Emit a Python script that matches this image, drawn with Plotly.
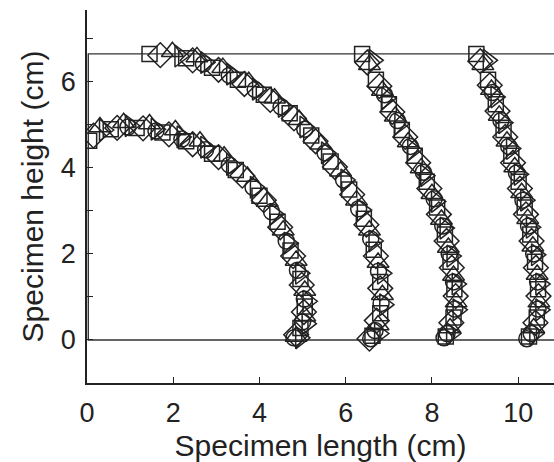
import plotly.graph_objects as go

# ---- data (cm) ----
SQUARE_X = [0.05, 0.55, 1.15, 1.75, 2.3, 2.9, 3.45, 4.0, 4.42, 4.72, 4.95, 5.05, 4.95,
            1.45, 2.3, 2.9, 3.5, 4.1, 4.7, 5.2, 5.65, 6.08, 6.42, 6.65, 6.80, 6.80, 6.62,
            6.38, 6.70, 7.0, 7.30, 7.60, 7.88, 8.12, 8.30, 8.43, 8.52, 8.50, 8.32,
            9.03, 9.30, 9.48, 9.66, 9.84, 10.01, 10.15, 10.28, 10.39, 10.46, 10.43, 10.25]
SQUARE_Y = [4.63, 4.90, 4.93, 4.82, 4.62, 4.33, 3.95, 3.35, 2.75, 2.08, 1.42, 0.78, 0.28,
            6.65, 6.55, 6.33, 6.05, 5.70, 5.27, 4.75, 4.15, 3.50, 2.82, 2.10, 1.35, 0.62, 0.10,
            6.65, 6.05, 5.48, 4.88, 4.28, 3.68, 3.08, 2.45, 1.82, 1.18, 0.52, 0.08,
            6.65, 6.05, 5.48, 4.88, 4.28, 3.68, 3.08, 2.45, 1.82, 1.18, 0.52, 0.08]

TRI_UP_X = [0.30, 0.85, 1.45, 2.05, 2.62, 3.18, 3.72, 4.18, 4.55, 4.85, 5.05, 5.05, 4.85,
            1.98, 2.55, 3.15, 3.75, 4.35, 4.92, 5.42, 5.88, 6.25, 6.55, 6.75, 6.85, 6.75,
            6.55, 6.85, 7.15, 7.45, 7.75, 8.00, 8.22, 8.38, 8.50, 8.56, 8.42,
            9.18, 9.38, 9.56, 9.74, 9.92, 10.08, 10.22, 10.34, 10.44, 10.48, 10.36]
TRI_UP_Y = [4.95, 5.05, 5.02, 4.88, 4.62, 4.27, 3.80, 3.22, 2.55, 1.85, 1.15, 0.55, 0.08,
            6.70, 6.58, 6.33, 6.00, 5.62, 5.12, 4.55, 3.92, 3.25, 2.55, 1.80, 1.05, 0.35,
            6.40, 5.80, 5.20, 4.60, 4.00, 3.40, 2.80, 2.15, 1.50, 0.88, 0.28,
            6.40, 5.82, 5.22, 4.62, 4.02, 3.42, 2.82, 2.18, 1.52, 0.88, 0.28]

DIAMOND_X = [0.15, 0.70, 1.30, 1.90, 2.45, 3.05, 3.60, 4.10, 4.48, 4.78, 4.98, 5.03, 4.85,
             1.70, 2.45, 3.05, 3.65, 4.25, 4.80, 5.30, 5.75, 6.15, 6.48, 6.70, 6.80, 6.72, 6.55,
             6.50, 6.78, 7.08, 7.38, 7.68, 7.94, 8.16, 8.34, 8.46, 8.55, 8.45,
             9.12, 9.34, 9.52, 9.70, 9.88, 10.04, 10.18, 10.31, 10.41, 10.47, 10.40]
DIAMOND_Y = [4.75, 4.93, 4.92, 4.78, 4.55, 4.25, 3.82, 3.25, 2.62, 1.95, 1.28, 0.65, 0.12,
             6.62, 6.50, 6.28, 5.95, 5.58, 5.15, 4.62, 4.02, 3.38, 2.68, 1.95, 1.20, 0.45, 0.03,
             6.45, 5.90, 5.30, 4.72, 4.12, 3.52, 2.92, 2.30, 1.68, 1.02, 0.40,
             6.48, 5.92, 5.32, 4.72, 4.12, 3.52, 2.92, 2.30, 1.68, 1.02, 0.40]

CIRCLE_X = [0.95, 1.60, 2.20, 2.75, 3.30, 3.85, 4.28, 4.62, 4.88, 5.04, 5.00, 4.80,
            2.70, 3.30, 3.90, 4.50, 5.05, 5.52, 5.95, 6.30, 6.58, 6.76, 6.82, 6.68, 6.58,
            6.90, 7.20, 7.50, 7.80, 8.05, 8.25, 8.40, 8.50, 8.53, 8.35, 8.28,
            9.40, 9.60, 9.78, 9.96, 10.11, 10.24, 10.36, 10.45, 10.46, 10.30, 10.20]
CIRCLE_Y = [4.95, 4.86, 4.67, 4.42, 4.07, 3.55, 2.98, 2.30, 1.62, 0.95, 0.42, 0.05,
            6.42, 6.15, 5.82, 5.42, 4.90, 4.35, 3.72, 3.05, 2.35, 1.60, 0.85, 0.22, 0.03,
            5.70, 5.10, 4.50, 3.90, 3.28, 2.65, 2.00, 1.35, 0.72, 0.15, 0.05,
            5.75, 5.10, 4.50, 3.88, 3.25, 2.65, 2.00, 1.35, 0.72, 0.15, 0.03]

TRI_RIGHT_X = [0.40, 1.00, 1.60, 2.20, 2.75, 3.35, 3.90, 4.35, 4.68, 4.95, 5.12, 5.10, 4.95,
               2.15, 2.75, 3.35, 3.95, 4.55, 5.05, 5.55, 6.00, 6.38, 6.65, 6.85, 6.90, 6.78,
               6.65, 6.95, 7.25, 7.55, 7.85, 8.10, 8.30, 8.46, 8.58, 8.60, 8.45,
               9.30, 9.48, 9.66, 9.84, 10.02, 10.17, 10.30, 10.42, 10.52, 10.52, 10.38]
TRI_RIGHT_Y = [4.88, 4.98, 4.90, 4.72, 4.48, 4.08, 3.55, 2.92, 2.25, 1.55, 0.90, 0.38, 0.05,
               6.60, 6.45, 6.18, 5.83, 5.43, 4.95, 4.35, 3.72, 3.02, 2.30, 1.55, 0.82, 0.15,
               6.50, 5.62, 5.02, 4.42, 3.82, 3.22, 2.60, 1.95, 1.30, 0.70, 0.15,
               6.50, 5.65, 5.05, 4.45, 3.85, 3.25, 2.62, 1.98, 1.30, 0.70, 0.15]

# specimen outline (bottom, left edge, top)
OUTLINE_X = [10.9, 0.03, 0.03, 10.9]
OUTLINE_Y = [0.0, 0.0, 6.65, 6.65]

X_TICKS = [0, 2, 4, 6, 8, 10]
Y_TICKS = [0, 1, 2, 3, 4, 5, 6, 7]
Y_TICKTEXT = ["0", "", "2", "", "4", "", "6", ""]

INK = "#222222"
FONT = "Liberation Sans, Arial, Helvetica, sans-serif"

fig = go.Figure()
fig.add_trace(go.Scatter(x=OUTLINE_X, y=OUTLINE_Y, mode="lines",
                         line=dict(color="#333333", width=1.4),
                         hoverinfo="skip", showlegend=False))

series = [
    (SQUARE_X, SQUARE_Y, "square-open", 15),
    (TRI_UP_X, TRI_UP_Y, "triangle-up-open", 19),
    (DIAMOND_X, DIAMOND_Y, "diamond-open", 19),
    (CIRCLE_X, CIRCLE_Y, "circle-open", 16),
    (TRI_RIGHT_X, TRI_RIGHT_Y, "triangle-right-open", 19),
]
for xs, ys, sym, sz in series:
    fig.add_trace(go.Scatter(x=xs, y=ys, mode="markers",
                             marker=dict(symbol=sym, size=sz, color=INK,
                                         line=dict(width=1.5, color=INK)),
                             showlegend=False))

fig.update_layout(
    width=554, height=462,
    margin=dict(l=87, r=0, t=10, b=79, autoexpand=False),
    paper_bgcolor="white", plot_bgcolor="white",
    font=dict(family=FONT, color=INK),
    showlegend=False,
)
fig.update_xaxes(
    range=[0, 10.83], tickvals=X_TICKS, ticks="inside", ticklen=6,
    tickwidth=1.3, tickcolor=INK, showline=True, linecolor=INK, linewidth=1.6,
    showgrid=False, zeroline=False, tickfont=dict(size=27, family=FONT, color=INK),
    ticklabelstandoff=5, automargin=False,
    title=dict(text="Specimen length (cm)", font=dict(size=30, family=FONT, color=INK),
               standoff=17),
)
fig.update_yaxes(
    range=[-1, 7.67], tickvals=Y_TICKS, ticktext=Y_TICKTEXT, ticks="inside",
    ticklen=6, tickwidth=1.3, tickcolor=INK, showline=True, linecolor=INK,
    linewidth=1.6, showgrid=False, zeroline=False, automargin=False,
    tickfont=dict(size=27, family=FONT, color=INK), ticklabelstandoff=4,
    title=dict(text="Specimen height (cm)", font=dict(size=30, family=FONT, color=INK),
               standoff=8),
)

fig.write_html("out.html")
